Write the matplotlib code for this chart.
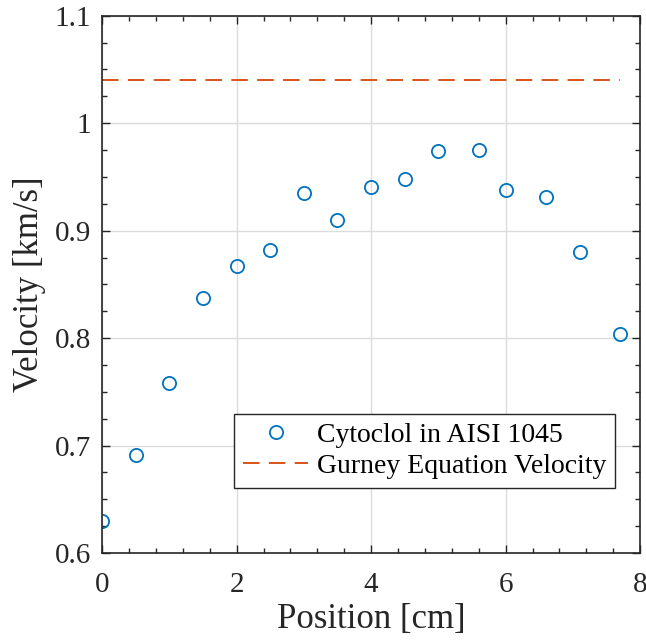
import matplotlib
matplotlib.use("Agg")
import matplotlib.pyplot as plt
from matplotlib.ticker import MultipleLocator

position = [0, 0.5, 1, 1.5, 2, 2.5, 3, 3.5, 4, 4.5, 5, 5.6, 6, 6.6, 7.1, 7.7]
velocity = [0.630, 0.691, 0.758, 0.837, 0.867, 0.882, 0.935, 0.910, 0.941, 0.948,
            0.974, 0.975, 0.938, 0.931, 0.880, 0.804]
gurney_x = [0, 7.7]
gurney_v = [1.04, 1.04]

plt.rcParams["font.family"] = ["Liberation Serif", "DejaVu Serif"]

fig = plt.figure(figsize=(6.46, 6.42), dpi=100)
ax = fig.add_axes([0.158, 0.1386, 0.833, 0.8369])

ax.plot(position, velocity, "o", mfc="none", mec="#0072BD", ms=9.5, mew=1.3,
        label="Cytoclol in AISI 1045")
ax.plot(gurney_x, gurney_v, "--", color="#D95319", lw=1.4, dashes=(8.5, 4.8),
        label="Gurney Equation Velocity")

ax.set_xlim(0, 8)
ax.set_ylim(0.6, 1.1)
ax.xaxis.set_major_locator(MultipleLocator(2))
ax.xaxis.set_minor_locator(MultipleLocator(0.4))
ax.yaxis.set_minor_locator(MultipleLocator(0.025))
ax.set_yticks([0.6, 0.7, 0.8, 0.9, 1.0, 1.1])
ax.set_yticklabels(["0.6", "0.7", "0.8", "0.9", "1", "1.1"])
ax.tick_params(which="both", direction="in", top=True, right=True, labelsize=21, colors="#262626")
ax.tick_params(which="major", length=6, width=1)
ax.tick_params(which="minor", length=3.5, width=1)
ax.tick_params(axis="x", pad=14)
ax.tick_params(axis="y", pad=8)
for s in ax.spines.values():
    s.set_color("#262626")
    s.set_linewidth(1.2)
ax.grid(True, which="major", color="#dcdcdc", lw=1)
ax.set_axisbelow(True)

ax.set_xlabel("Position [cm]", fontsize=25, color="#262626", labelpad=3)
ax.set_ylabel("Velocity [km/s]", fontsize=25, color="#262626", labelpad=6)

leg = ax.legend(loc="lower right", bbox_to_anchor=(0.953, 0.121), fontsize=20,
                fancybox=False, framealpha=1, edgecolor="#262626",
                borderpad=0.32, handlelength=2.35, handletextpad=0.3, labelspacing=0.2,
                borderaxespad=0)
leg.get_frame().set_linewidth(1)

fig.savefig("out.png", dpi=100)
